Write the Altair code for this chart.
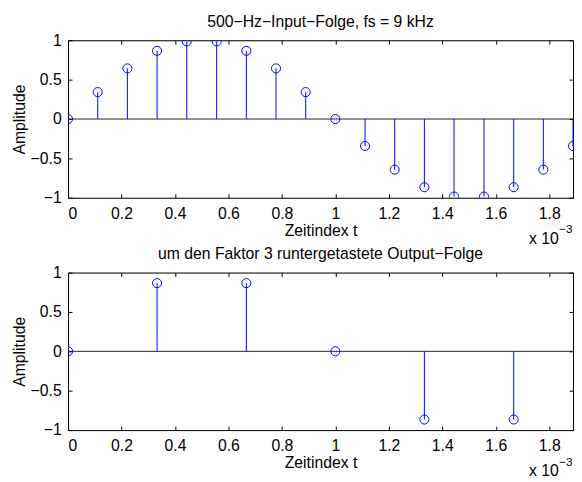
import altair as alt
import pandas as pd

# ---- data (time in ms, i.e. units of 1e-3 s) ----
t_in = [0.0, 0.111, 0.222, 0.333, 0.444, 0.556, 0.667, 0.778, 0.889,
        1.0, 1.111, 1.222, 1.333, 1.444, 1.556, 1.667, 1.778, 1.889]
y_in = [0.0, 0.342, 0.643, 0.866, 0.985, 0.985, 0.866, 0.643, 0.342,
        0.0, -0.342, -0.643, -0.866, -0.985, -0.985, -0.866, -0.643, -0.342]
t_out = [0.0, 0.333, 0.667, 1.0, 1.333, 1.667]
y_out = [0.0, 0.866, 0.866, 0.0, -0.866, -0.866]

x_ticks = [0, 0.2, 0.4, 0.6, 0.8, 1.0, 1.2, 1.4, 1.6, 1.8]
y_ticks = [-1, -0.5, 0, 0.5, 1]
x_domain = [0, 1.889]
y_domain = [-1, 1]

title_top = "500\u2212Hz\u2212Input\u2212Folge, fs = 9 kHz"
title_bot = "um den Faktor 3 runtergetastete Output\u2212Folge"
x_title = "Zeitindex t"
y_title = "Amplitude"

W, H = 513, 160
FONT = "Liberation Sans"
FS = 16
BLUE = "#0000FF"


def panel(t, y, title):
    df = pd.DataFrame({"t": t, "y": y})
    one = pd.DataFrame({"a": [0]})
    xs = alt.Scale(domain=x_domain, nice=False, zero=False)
    ys = alt.Scale(domain=y_domain, nice=False)
    base = alt.Chart(df)

    common = dict(grid=False, labelFont=FONT, labelFontSize=FS, labelColor="black",
                  titleFont=FONT, titleFontSize=FS, titleColor="black", titleFontWeight="normal",
                  domainColor="black", tickColor="black", domainWidth=1, tickWidth=1)

    ax_bottom = alt.Axis(orient="bottom", values=x_ticks, format="~g", ticks=False,
                         domain=True, title=x_title, labelPadding=8, titlePadding=1, **common)
    ax_left = alt.Axis(orient="left", values=y_ticks, format="~g", ticks=False,
                       domain=True, title=y_title, labelPadding=7, titlePadding=3, **common)
    ax_topborder = alt.Axis(orient="bottom", offset=-H, values=x_ticks, labels=False,
                            ticks=True, tickSize=4, domain=True, title=None, **common)
    ax_bottomticks = alt.Axis(orient="top", offset=-H, values=x_ticks, labels=False,
                              ticks=True, tickSize=4, domain=False, title=None, **common)
    ax_rightborder = alt.Axis(orient="left", offset=-W, values=y_ticks, labels=False,
                              ticks=True, tickSize=4, domain=True, title=None, **common)
    ax_leftticks = alt.Axis(orient="right", offset=-W, values=y_ticks, labels=False,
                            ticks=True, tickSize=4, domain=False, title=None, **common)

    baseline = alt.Chart(one).mark_rule(color="#222222", strokeWidth=1).encode(
        x=alt.value(0), x2=alt.value(W),
        y=alt.Y(datum=0, scale=ys, axis=None),
    )
    stems = base.mark_rule(color=BLUE, strokeWidth=1).encode(
        x=alt.X("t:Q", scale=xs, axis=ax_bottom),
        y=alt.Y("y:Q", scale=ys, axis=ax_left),
        y2=alt.datum(0),
    )
    circles = base.mark_point(shape="circle", filled=False, color=BLUE, size=85,
                              strokeWidth=1, opacity=1, clip=True).encode(
        x=alt.X("t:Q", scale=xs, axis=ax_topborder),
        y=alt.Y("y:Q", scale=ys, axis=ax_rightborder),
    )
    ghost = base.mark_point(opacity=0, clip=True).encode(
        x=alt.X("t:Q", scale=xs, axis=ax_bottomticks),
        y=alt.Y("y:Q", scale=ys, axis=ax_leftticks),
    )
    head = alt.Chart(one).mark_text(font=FONT, fontSize=FS, align="center",
                                    baseline="alphabetic", color="black").encode(
        x=alt.value(W / 2), y=alt.value(-13.5), text=alt.value(title))
    note1 = alt.Chart(one).mark_text(font=FONT, fontSize=FS, align="right",
                                     baseline="alphabetic", color="black").encode(
        x=alt.value(W - 14.5), y=alt.value(H + 47), text=alt.value("x 10"))
    note2 = alt.Chart(one).mark_text(font=FONT, fontSize=12, align="left",
                                     baseline="alphabetic", color="black").encode(
        x=alt.value(W - 14), y=alt.value(H + 36), text=alt.value("\u22123"))

    return alt.layer(baseline, stems, circles, ghost, head, note1, note2).resolve_axis(
        x="independent", y="independent"
    ).properties(width=W, height=H)


chart = alt.vconcat(
    panel(t_in, y_in, title_top),
    panel(t_out, y_out, title_bot),
    spacing=76,
    bounds="flush",
).properties(
    padding={"left": 2, "top": 2, "right": 0, "bottom": 0}
).configure_view(stroke=None).configure(background="white")

chart.save("out.html", embed_options={"renderer": "svg", "actions": False})
